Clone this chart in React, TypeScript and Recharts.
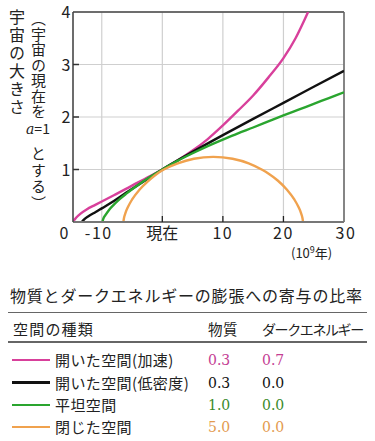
import React from "react";
import { LineChart, Line, XAxis, YAxis, CartesianGrid, ReferenceLine } from "recharts";

// ---- data (x: 10^9 years from now, y: relative size a) ----
const xTicks = [-10, 0, 10, 20, 30];
const xTickLabels = ["-10", "現在", "10", "20", "30"];
const yTicks = [0, 1, 2, 3, 4];
const yTickLabels = ["0", "1", "2", "3", "4"];

const openAccelerating: [number, number][] = [
  [-14.7, 0], [-14.5, 0.045], [-14.2, 0.085], [-13.5, 0.16], [-12.5, 0.24], [-11, 0.33],
  [-10, 0.39], [-8, 0.51], [-6, 0.63], [-4, 0.755], [-2, 0.875], [0, 1.0], [2.5, 1.17],
  [5, 1.36], [7.5, 1.58], [10, 1.84], [12.5, 2.12], [15, 2.41], [17.5, 2.75], [20, 3.12],
  [22, 3.5], [24.07, 4.0],
];
const openLowDensity: [number, number][] = [
  [-13.3, 0], [-12.9, 0.05], [-12.2, 0.11], [-11, 0.19], [-10, 0.26], [-8, 0.4], [-6, 0.555],
  [-4, 0.705], [-2, 0.853], [0, 1.0], [5, 1.335], [10, 1.655], [15, 1.965], [20, 2.27],
  [25, 2.575], [30, 2.88],
];
const flatSpace: [number, number][] = [
  [-9.9, 0], [-9.75, 0.06], [-9.4, 0.13], [-8.8, 0.23], [-8, 0.33], [-7, 0.44], [-6, 0.535],
  [-4, 0.705], [-2, 0.86], [0, 1.0], [2.5, 1.165], [5, 1.31], [7.5, 1.445], [10, 1.57],
  [12.5, 1.69], [15, 1.8], [17.5, 1.915], [20, 2.03], [22.5, 2.14], [25, 2.25], [27.5, 2.36],
  [30, 2.47],
];
const closedSpace: [number, number][] = [
  [-6.43, 0], [-6.33, 0.076], [-6.11, 0.166], [-5.68, 0.285], [-5.01, 0.425], [-3.74, 0.62],
  [-2.24, 0.79], [-0.63, 0.94], [0.25, 1.0], [2.55, 1.117], [5.21, 1.204], [8.4, 1.24],
  [11.6, 1.204], [14.26, 1.117], [16.56, 0.99], [17.44, 0.93], [19.05, 0.79], [20.55, 0.62],
  [21.82, 0.425], [22.49, 0.285], [22.92, 0.166], [23.14, 0.076], [23.24, 0],
];

const spaceNames = ["開いた空間(加速)", "開いた空間(低密度)", "平坦空間", "閉じた空間"];
const matterRatios = ["0.3", "0.3", "1.0", "5.0"];
const darkEnergyRatios = ["0.7", "0.0", "0.0", "0.0"];

const title = "物質とダークエネルギーの膨張への寄与の比率";
const headers = ["空間の種類", "物質", "ダークエネルギー"];

// ---- styles ----
const lineColors = ["#d8409b", "#111111", "#2aa52f", "#f0a24e"];
const textColors = ["#c43d93", "#111111", "#3a8a2a", "#e39a4e"];
const FONT = '"Noto Sans CJK JP", "Noto Sans", sans-serif';

const toRows = (pts: [number, number][]) => pts.map(([x, y]) => ({ x, y }));
const seriesData = [openAccelerating, openLowDensity, flatSpace, closedSpace].map(toRows);

const PLOT_LEFT = 73;
const PLOT_BOTTOM = 222;

const XTick = (props: any) => {
  const { x, payload } = props;
  const i = xTicks.indexOf(payload.value);
  const label = xTickLabels[i] ?? String(payload.value);
  const showMark = payload.value !== 30 && payload.value !== -10;
  return (
    <g>
      {showMark && <line x1={x} x2={x} y1={PLOT_BOTTOM} y2={PLOT_BOTTOM - 6} stroke="#222" strokeWidth={1.3} />}
      <text
        x={x + (payload.value === -10 ? -3 : payload.value === 30 ? 2 : 0)}
        y={239}
        textAnchor="middle"
        fontSize={16}
        fill="#222"
        fontFamily={FONT}
        letterSpacing={payload.value === 0 ? 0 : 1.5}
      >
        {label}
      </text>
    </g>
  );
};

const YTick = (props: any) => {
  const { y, payload } = props;
  const i = yTicks.indexOf(payload.value);
  const label = yTickLabels[i] ?? String(payload.value);
  if (payload.value === 0) {
    return (
      <text x={64} y={239} textAnchor="middle" fontSize={16} fill="#222" fontFamily={FONT}>
        {label}
      </text>
    );
  }
  return (
    <g>
      {payload.value !== 4 && (
        <line x1={PLOT_LEFT} x2={PLOT_LEFT + 6} y1={y} y2={y} stroke="#333" strokeWidth={1.5} />
      )}
      <text x={66} y={y + 6} textAnchor="middle" fontSize={16} fill="#222" fontFamily={FONT}>
        {label}
      </text>
    </g>
  );
};

const Txt = ({ x, cy, size, color = "#222", ls = 0, family = FONT, children }: any) => (
  <div
    style={{
      position: "absolute",
      left: x,
      top: cy - 12,
      height: 24,
      lineHeight: "24px",
      fontSize: size,
      color,
      letterSpacing: ls,
      fontFamily: family,
      whiteSpace: "nowrap",
    }}
  >
    {children}
  </div>
);

export default function App() {
  const rowY = [360, 382.5, 404.8, 426.8];
  return (
    <div
      style={{
        position: "absolute",
        left: 0,
        top: 0,
        width: 375,
        height: 441,
        background: "#fff",
        fontFamily: FONT,
        color: "#222",
        overflow: "hidden",
      }}
    >
      <div style={{ position: "absolute", left: 0, top: 0 }}>
        <LineChart width={375} height={262} margin={{ top: 12, right: 31, left: 0, bottom: 0 }}>
          <CartesianGrid stroke="#cfcfcf" strokeWidth={1.2} />
          <XAxis
            type="number"
            dataKey="x"
            domain={[-14.75, 30]}
            ticks={xTicks}
            allowDataOverflow
            height={40}
            tickLine={false}
            axisLine={{ stroke: "#777", strokeWidth: 2 }}
            tick={<XTick />}
            interval={0}
          />
          <YAxis
            type="number"
            dataKey="y"
            domain={[0, 4]}
            ticks={yTicks}
            allowDataOverflow
            width={73}
            tickLine={false}
            axisLine={{ stroke: "#444", strokeWidth: 1.5 }}
            tick={<YTick />}
            interval={0}
          />
          <ReferenceLine y={4} stroke="#444" strokeWidth={1.3} />
          <ReferenceLine x={30} stroke="#666" strokeWidth={1.5} />
          {seriesData.map((d, i) => (
            <Line
              key={i}
              data={d}
              dataKey="y"
              type="monotone"
              stroke={lineColors[i]}
              strokeWidth={2.4}
              dot={false}
              activeDot={false}
              isAnimationActive={false}
            />
          ))}
        </LineChart>
      </div>

      {/* vertical y-axis titles */}
      <div
        style={{
          position: "absolute",
          left: 8,
          top: 9,
          writingMode: "vertical-rl",
          fontSize: 16,
          lineHeight: "17px",
          letterSpacing: 2,
          whiteSpace: "nowrap",
        }}
      >
        宇宙の大きさ
      </div>
      <div
        style={{
          position: "absolute",
          left: 30,
          top: 11,
          writingMode: "vertical-rl",
          fontSize: 15,
          lineHeight: "17px",
          letterSpacing: 0.5,
          whiteSpace: "nowrap",
        }}
      >
        （宇宙の現在を
      </div>
      <div
        style={{
          position: "absolute",
          left: 26,
          top: 119,
          fontSize: 14,
          lineHeight: "18px",
          whiteSpace: "nowrap",
        }}
      >
        <span style={{ fontFamily: '"DejaVu Serif", serif', fontStyle: "italic" }}>a</span>=1
      </div>
      <div
        style={{
          position: "absolute",
          left: 30,
          top: 146,
          writingMode: "vertical-rl",
          fontSize: 15,
          lineHeight: "17px",
          letterSpacing: 1.5,
          whiteSpace: "nowrap",
        }}
      >
        とする）
      </div>
      <div
        style={{
          position: "absolute",
          left: 291,
          top: 244,
          fontSize: 13,
          lineHeight: "18px",
          whiteSpace: "nowrap",
        }}
      >
        (10<sup style={{ fontSize: 9, verticalAlign: "5px", lineHeight: 0 }}>9</sup>年)
      </div>

      {/* table */}
      <Txt x={10} cy={295} size={16} ls={0.8}>
        {title}
      </Txt>
      <div style={{ position: "absolute", left: 8, top: 311.5, width: 359, height: 1.6, background: "#666" }} />
      <Txt x={13} cy={329} size={15} ls={1.2}>
        {headers[0]}
      </Txt>
      <Txt x={208} cy={329} size={14.5} ls={0.5}>
        {headers[1]}
      </Txt>
      <Txt x={262} cy={329} size={14} ls={-1.4}>
        {headers[2]}
      </Txt>
      <div style={{ position: "absolute", left: 8, top: 341, width: 359, height: 1.6, background: "#666" }} />

      {spaceNames.map((name, i) => (
        <React.Fragment key={i}>
          <div
            style={{
              position: "absolute",
              left: 11.5,
              top: rowY[i] - 1.2,
              width: 38.5,
              height: 2.4,
              background: lineColors[i],
            }}
          />
          <Txt x={55} cy={rowY[i]} size={15} ls={0.4}>
            {name}
          </Txt>
          <Txt x={208} cy={rowY[i]} size={14} color={textColors[i]} family='"DejaVu Serif", serif'>
            {matterRatios[i]}
          </Txt>
          <Txt x={262} cy={rowY[i]} size={14} color={textColors[i]} family='"DejaVu Serif", serif'>
            {darkEnergyRatios[i]}
          </Txt>
        </React.Fragment>
      ))}
    </div>
  );
}
